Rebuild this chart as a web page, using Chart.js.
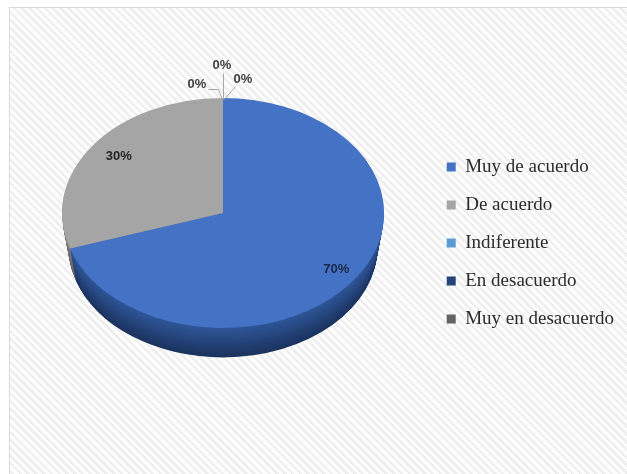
<!DOCTYPE html>
<html>
<head>
<meta charset="utf-8">
<script src="https://cdn.jsdelivr.net/npm/chart.js@4.4.1/dist/chart.umd.min.js"></script>
<style>
  html, body { margin: 0; padding: 0; background: #fff; }
  #wrap { position: relative; width: 627px; height: 474px; overflow: hidden; background: #fff; }
  #frame {
    position: absolute; left: 9px; top: 7px; width: 660px; height: 500px;
    border: 1px solid #d9d9d9;
    background: repeating-linear-gradient(45deg, #fdfdfd 0 3px, #efefef 3px 5.5px);
  }
  canvas { position: absolute; left: 0; top: 0; }
</style>
</head>
<body>
<div id="wrap">
  <div id="frame"></div>
  <canvas id="chart" width="627" height="474"></canvas>
</div>
<script>
// Survey answers and their share of responses (%)
const categories = ['Muy de acuerdo', 'De acuerdo', 'Indiferente', 'En desacuerdo', 'Muy en desacuerdo'];
const shares = [70, 30, 0, 0, 0];

const sliceColors = ['#4472C4', '#A5A5A5', '#5B9BD5', '#264478', '#636363'];
const sideLight  = ['#2f5597', '#7c7c7c', '#41719c', '#1b3156', '#4a4a4a'];
const sideDark   = ['#1b335e', '#5f5f5f', '#2c4f70', '#101f38', '#333333'];

const LEGEND_FONT = { family: '"Liberation Serif", "DejaVu Serif", serif', size: 19 };

// size the right padding so the legend column starts where it should
const measure = document.createElement('canvas').getContext('2d');
measure.font = LEGEND_FONT.size + 'px ' + LEGEND_FONT.family;
const widest = Math.max(...categories.map(t => measure.measureText(t).width));
const padRight = Math.max(0, Math.round(627 - 427 - (20 + 9 + 9.5 + widest + 10)));

function hexRgb(h) {
  const n = parseInt(h.slice(1), 16);
  return [(n >> 16) & 255, (n >> 8) & 255, n & 255];
}
function mix(a, b, t) {
  const A = hexRgb(a), B = hexRgb(b);
  return 'rgb(' + A.map((v, i) => Math.round(v + (B[i] - v) * t)).join(',') + ')';
}

// Tilted pie with an extruded rim, plus value labels and callouts
const pie3d = {
  id: 'pie3d',
  beforeDatasetsDraw(chart, args, o) {
    const arcs = chart.getDatasetMeta(0).data;
    if (!arcs.length) return;
    const ctx = chart.ctx;
    const a0 = arcs[0];
    const k = o.ry / a0.outerRadius;
    // the rim layers recede slightly, like a perspective view from above
    const tilt = (dy) => {
      const s = 1 - o.shrink * dy / o.depth;
      ctx.translate(o.cx, o.cy + dy);
      ctx.scale(s, k * s);
      ctx.translate(-a0.x, -a0.y);
    };
    for (let d = o.depth; d >= 1; d--) {
      const t = (d - 1) / Math.max(1, o.depth - 1);
      ctx.save();
      tilt(d);
      arcs.forEach((arc, i) => {
        if (arc.endAngle - arc.startAngle <= 0) return;
        ctx.fillStyle = mix(sideLight[i], sideDark[i], t);
        ctx.beginPath();
        ctx.moveTo(arc.x, arc.y);
        ctx.arc(arc.x, arc.y, arc.outerRadius, arc.startAngle, arc.endAngle);
        ctx.closePath();
        ctx.fill();
      });
      ctx.restore();
    }
    ctx.save();
    tilt(0);
    this._k = k;
  },
  afterDatasetsDraw(chart, args, o) {
    const arcs = chart.getDatasetMeta(0).data;
    if (!arcs.length) return;
    const ctx = chart.ctx;
    ctx.restore();
    const k = this._k;
    const values = chart.data.datasets[0].data;
    const total = values.reduce((s, v) => s + v, 0);
    const top = { x: o.cx, y: o.cy - o.ry };
    ctx.save();
    ctx.font = o.labelFont;
    ctx.textAlign = 'center';
    ctx.textBaseline = 'middle';
    let z = 0;
    arcs.forEach((arc, i) => {
      const text = Math.round(values[i] / total * 100) + '%';
      if (values[i] > 0) {
        const mid = (arc.startAngle + arc.endAngle) / 2;
        const f = o.labelRadius[i] * arc.outerRadius;
        const x = o.cx + Math.cos(mid) * f;
        const y = o.cy + Math.sin(mid) * f * k - o.labelLift[i];
        ctx.fillStyle = o.labelColors[i];
        ctx.fillText(text, x, y);
      } else {
        const c = o.callouts[z++ % o.callouts.length];
        ctx.strokeStyle = o.leaderColor;
        ctx.lineWidth = 1;
        ctx.beginPath();
        c.line.forEach((p, j) => {
          const px = top.x + p[0] + 0.5, py = top.y + p[1] + 0.5;
          if (j === 0) ctx.moveTo(px, py); else ctx.lineTo(px, py);
        });
        ctx.stroke();
        ctx.fillStyle = o.labelColors[i];
        ctx.fillText(text, top.x + c.dx, top.y + c.dy);
      }
    });
    ctx.restore();
  }
};

new Chart(document.getElementById('chart'), {
  type: 'pie',
  data: {
    labels: categories,
    datasets: [{
      data: shares,
      backgroundColor: sliceColors,
      borderWidth: 0,
      radius: 161
    }]
  },
  options: {
    responsive: false,
    animation: false,
    events: [],
    layout: { padding: { left: 20, right: padRight, top: 12, bottom: 0 } },
    plugins: {
      tooltip: { enabled: false },
      legend: {
        position: 'right',
        labels: {
          font: LEGEND_FONT,
          color: '#2b2b2b',
          boxWidth: 9,
          boxHeight: 9,
          padding: 19
        }
      },
      pie3d: {
        cx: 223, cy: 213, ry: 115, depth: 34, shrink: 0.04,
        labelFont: 'bold 13px "Liberation Sans", Arial, sans-serif',
        labelColors: ['#1b2745', '#262626', '#404040', '#404040', '#404040'],
        labelRadius: [0.87, 0.8, 0, 0, 0],
        labelLift: [2, 3, 0, 0, 0],
        leaderColor: '#a6a6a6',
        callouts: [
          { dx: -26, dy: -14, line: [[-1, 1], [-5, -9], [-15, -9]] },
          { dx: -1, dy: -33, line: [[0, 1], [0, -25]] },
          { dx: 20, dy: -19, line: [[1, 1], [12, -12]] }
        ]
      }
    }
  },
  plugins: [pie3d]
});
</script>
</body>
</html>
